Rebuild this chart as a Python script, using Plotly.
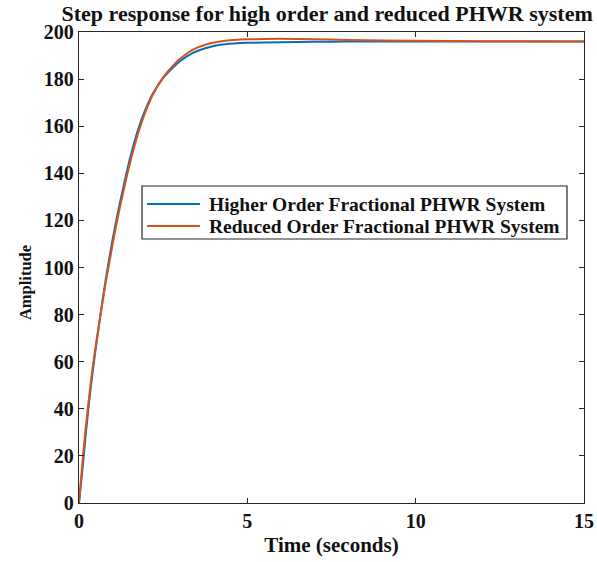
import plotly.graph_objects as go

time_s = [0, 0.1, 0.2, 0.3, 0.4, 0.5, 0.6, 0.7, 0.8, 0.9, 1.0, 1.1, 1.2, 1.3, 1.4, 1.5, 1.6, 1.7, 1.8, 1.9,
          2.0, 2.2, 2.5, 2.8, 3.0, 3.4, 3.8, 4.2, 4.6, 5, 6, 7, 8, 10, 12, 15]
higher_order = [0, 14, 29, 43, 55, 66, 76, 86, 95.5, 104, 112, 119.5, 126.5, 133, 139.5, 145.5, 151, 156, 160.5, 164.5,
                168, 174, 180.5, 185, 187.6, 191.2, 193.3, 194.6, 195.1, 195.4, 195.7, 195.85, 195.95, 196, 196, 196]
reduced_order = [0, 17, 32, 45, 57, 67, 76.5, 85.5, 94, 102, 110, 117.5, 124.5, 131, 137.5, 143.5, 149, 154.3, 159, 163.2,
                 167, 173.5, 180.7, 185.8, 188.6, 192.6, 194.8, 196, 196.6, 196.9, 197.1, 196.95, 196.6, 196.25, 196.05, 196]
series_names = ["Higher Order Fractional PHWR System", "Reduced Order Fractional PHWR System"]
series_colors = ["#0072BD", "#D95319"]
x_ticks = [0, 5, 10, 15]
y_ticks = list(range(0, 201, 20))

FONT = "Liberation Serif"
AX = "#262626"
TXT = "#111111"

fig = go.Figure()
for ys, name, col in zip([higher_order, reduced_order], series_names, series_colors):
    fig.add_trace(go.Scatter(x=time_s, y=ys, mode="lines", name=name,
                             line=dict(color=col, width=2, shape="spline", smoothing=0.5)))

# Legend box (MATLAB style), drawn in the plot-area paper frame
fig.add_shape(type="rect", xref="paper", yref="paper", x0=0.1248, x1=0.9663, y0=0.5605, y1=0.673,
              line=dict(color=AX, width=1.2), fillcolor="white", layer="above")
for i, (name, col) in enumerate(zip(series_names, series_colors)):
    yc = 0.6348 - i * 0.0467
    fig.add_shape(type="line", xref="paper", yref="paper", x0=0.1347, x1=0.2396, y0=yc, y1=yc,
                  line=dict(color=col, width=2), layer="above")
    fig.add_annotation(xref="paper", yref="paper", x=0.2535, y=yc, xanchor="left", yanchor="middle",
                       text=name, showarrow=False,
                       font=dict(family=FONT, size=19.5, weight="bold", color=TXT))

# y-axis label placed as in the reference (slightly below the axis centre)
fig.add_annotation(xref="paper", yref="paper", x=-0.107, y=0.469, xanchor="center", yanchor="middle",
                   text="Amplitude", textangle=-90, showarrow=False,
                   font=dict(family=FONT, size=16.5, weight="bold", color=TXT))

fig.update_layout(
    width=597, height=562,
    margin=dict(l=79, r=13, t=32, b=59),
    paper_bgcolor="white", plot_bgcolor="white",
    font=dict(family=FONT, color=TXT, size=20, weight="bold"),
    title=dict(text="Step response for high order and reduced PHWR system",
               font=dict(family=FONT, size=22, weight="bold", color=TXT),
               x=0.548, xref="container", xanchor="center",
               y=0.977, yref="container", yanchor="middle"),
    showlegend=False,
    xaxis=dict(range=[0, 15], tickvals=x_ticks, ticks="inside", ticklen=5, tickcolor=AX,
               showline=True, linecolor=AX, linewidth=1.3, mirror="ticks",
               showgrid=False, zeroline=False, automargin=False,
               tickfont=dict(family=FONT, size=20, weight="bold", color=TXT),
               title=dict(text="Time (seconds)", font=dict(family=FONT, size=21, weight="bold", color=TXT),
                          standoff=6)),
    yaxis=dict(range=[0, 200], tickvals=y_ticks, ticks="inside", ticklen=5, tickcolor=AX,
               showline=True, linecolor=AX, linewidth=1.3, mirror="ticks",
               showgrid=False, zeroline=False, automargin=False,
               tickfont=dict(family=FONT, size=20, weight="bold", color=TXT)),
)

fig.write_html("out.html")
